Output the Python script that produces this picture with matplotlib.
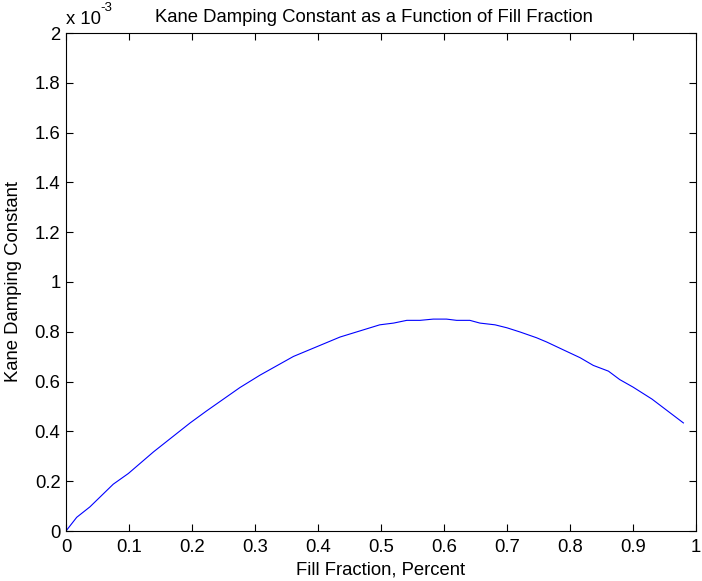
import numpy as np
import matplotlib
matplotlib.use('Agg')
import matplotlib.pyplot as plt

plt.rcParams['font.family'] = ['Liberation Sans', 'DejaVu Sans']

# --- données ---
fill_fraction = [0.0, 0.017, 0.038, 0.075, 0.099, 0.139, 0.197, 0.223, 0.276, 0.308,
                 0.361, 0.435, 0.498, 0.520, 0.541, 0.562, 0.583, 0.604, 0.620, 0.641,
                 0.657, 0.681, 0.700, 0.721, 0.747, 0.763, 0.789, 0.816, 0.837, 0.861,
                 0.879, 0.900, 0.930, 0.980]
kane_e3 = [0.0, 0.055, 0.097, 0.188, 0.231, 0.318, 0.434, 0.482, 0.576, 0.626,
           0.701, 0.779, 0.828, 0.835, 0.846, 0.846, 0.851, 0.851, 0.846, 0.846,
           0.835, 0.828, 0.816, 0.799, 0.776, 0.759, 0.728, 0.696, 0.665, 0.642,
           0.608, 0.578, 0.530, 0.434]
kane = np.array(kane_e3) * 1e-3

x_ticks = [0, 0.1, 0.2, 0.3, 0.4, 0.5, 0.6, 0.7, 0.8, 0.9, 1]
x_labels = ['0', '0.1', '0.2', '0.3', '0.4', '0.5', '0.6', '0.7', '0.8', '0.9', '1']
y_ticks_e3 = [0, 0.2, 0.4, 0.6, 0.8, 1, 1.2, 1.4, 1.6, 1.8, 2]
y_labels = ['0', '0.2', '0.4', '0.6', '0.8', '1', '1.2', '1.4', '1.6', '1.8', '2']

fs = 13.3

fig = plt.figure(figsize=(7.02, 5.81), dpi=100)
ax = fig.add_axes([66 / 702, 50 / 581, 630 / 702, 498 / 581])

ax.plot(fill_fraction, kane, color='#0000ff', linewidth=0.8)

ax.set_xlim(0, 1)
ax.set_ylim(0, 2e-3)
ax.set_xticks(x_ticks)
ax.set_xticklabels(x_labels)
ax.set_yticks(np.array(y_ticks_e3) * 1e-3)
ax.set_yticklabels(y_labels)
ax.tick_params(direction='in', top=True, right=True, length=5, width=0.8,
               labelsize=fs)
ax.tick_params(axis='x', pad=6)
ax.tick_params(axis='y', pad=4)
for s in ax.spines.values():
    s.set_linewidth(0.8)

ax.set_title("Kane Damping Constant as a Function of Fill Fraction", fontsize=fs,
             pad=8, x=(374 - 66) / 630)
ax.set_xlabel("Fill Fraction, Percent", fontsize=fs, labelpad=4)
ax.set_ylabel("Kane Damping Constant", fontsize=fs, labelpad=9)

# facteur d'échelle à la MATLAB
fig.text(66 / 702, 1 - 19 / 581, "x 10", fontsize=fs, ha='left', va='center')
fig.text(100 / 702, 1 - 8 / 581, "-3", fontsize=9.5, ha='left', va='center')

plt.savefig('out.png', dpi=100)
